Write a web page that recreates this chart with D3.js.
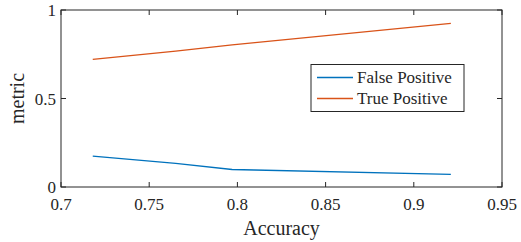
<!DOCTYPE html>
<html><head><meta charset="utf-8">
<script src="https://cdn.jsdelivr.net/npm/d3@7"></script>
<style>body{margin:0;background:#fff}svg{display:block}</style>
</head><body>
<script>
const accuracy = [0.718, 0.765, 0.797, 0.921];
const falsePositive = [0.175, 0.133, 0.099, 0.071];
const truePositive = [0.721, 0.768, 0.803, 0.925];
const seriesNames = ["False Positive", "True Positive"];
const xTicks = [0.7, 0.75, 0.8, 0.85, 0.9, 0.95];
const yTicks = [0, 0.5, 1];

const W = 521, H = 242;
const m = {l: 61, r: 19, t: 10, b: 55};
const svg = d3.select("body").append("svg").attr("width", W).attr("height", H)
  .style("font-family", "'Times New Roman', Tinos, 'Liberation Serif', 'DejaVu Serif', serif");
const x = d3.scaleLinear().domain([0.7, 0.95]).range([m.l, W - m.r]);
const y = d3.scaleLinear().domain([0, 1]).range([H - m.b, m.t]);
const colors = ["#0072BD", "#D95319"];
const tl = 5;
const ink = "#262626";

svg.append("rect").attr("x", x(0.7)).attr("y", y(1)).attr("width", x(0.95) - x(0.7)).attr("height", y(0) - y(1))
  .attr("fill", "none").attr("stroke", ink).attr("stroke-width", 1);

const g = svg.append("g").attr("stroke", ink).attr("stroke-width", 1);
xTicks.forEach(t => {
  g.append("line").attr("x1", x(t)).attr("x2", x(t)).attr("y1", y(0)).attr("y2", y(0) - tl);
  g.append("line").attr("x1", x(t)).attr("x2", x(t)).attr("y1", y(1)).attr("y2", y(1) + tl);
});
yTicks.forEach(t => {
  g.append("line").attr("y1", y(t)).attr("y2", y(t)).attr("x1", x(0.7)).attr("x2", x(0.7) + tl);
  g.append("line").attr("y1", y(t)).attr("y2", y(t)).attr("x1", x(0.95)).attr("x2", x(0.95) - tl);
});
xTicks.forEach(t => {
  svg.append("text").attr("x", x(t)).attr("y", y(0) + 23).attr("text-anchor", "middle")
    .attr("font-size", 17).attr("fill", ink).text(d3.format("")(t));
});
yTicks.forEach(t => {
  svg.append("text").attr("x", x(0.7) - 5).attr("y", y(t) + 6).attr("text-anchor", "end")
    .attr("font-size", 17).attr("fill", ink).text(t);
});
svg.append("text").attr("x", (x(0.7) + x(0.95)) / 2).attr("y", 235).attr("text-anchor", "middle")
  .attr("font-size", 20).attr("fill", ink).text("Accuracy");
svg.append("text").attr("transform", `translate(24,${(y(0) + y(1)) / 2}) rotate(-90)`)
  .attr("text-anchor", "middle").attr("font-size", 20).attr("fill", ink).text("metric");

const line = d3.line().x((d, i) => x(accuracy[i])).y(d => y(d));
[falsePositive, truePositive].forEach((s, k) => {
  svg.append("path").attr("d", line(s)).attr("fill", "none").attr("stroke", colors[k]).attr("stroke-width", 1.3);
});

const lg = svg.append("g");
lg.append("rect").attr("x", 311).attr("y", 64.5).attr("width", 153).attr("height", 47)
  .attr("fill", "#fff").attr("stroke", ink).attr("stroke-width", 1);
seriesNames.forEach((n, k) => {
  const yy = 77.5 + k * 21;
  lg.append("line").attr("x1", 317).attr("x2", 353).attr("y1", yy).attr("y2", yy)
    .attr("stroke", colors[k]).attr("stroke-width", 1.3);
  lg.append("text").attr("x", 357).attr("y", yy + 5.5).attr("font-size", 17).attr("fill", ink).text(n);
});
</script>
</body></html>
